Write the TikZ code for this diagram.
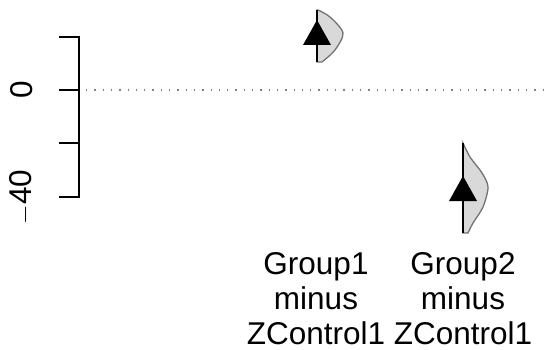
\documentclass[tikz,border=0pt]{standalone}
\usepackage{fontspec}
\setmainfont{Liberation Sans}
\usepackage{tikz}
\usetikzlibrary{positioning}
\tikzstyle{axisline} = [draw, line width=1.5pt, line cap=rect]
\tikzstyle{ticklab} = [rotate=90, inner sep=0pt, font=\fontsize{31.5}{35}\selectfont]
\tikzstyle{grouplab} = [align=center, anchor=north, inner sep=0pt,
    font=\fontsize{31.5}{35}\selectfont]
\tikzstyle{halfviolin} = [draw=black!55, fill=black!15, line width=1.3pt]
\tikzstyle{ci} = [draw, line width=2.5pt]
\tikzstyle{est} = [fill=black]
\tikzstyle{zeroline} = [draw=black!50, line width=1.3pt, dash pattern=on 1.3pt off 7pt]

\begin{document}
\begin{tikzpicture}[x=1pt, y=-1pt]
  \useasboundingbox (0,0) rectangle (548,350);
  % Place coordinates
  \coordinate (top) at (79,37);
  \coordinate (bot) at (79,197);
  \coordinate (z0) at (86,90);
  \coordinate (z1) at (548,90);
  % Draw axis
  \path[axisline] (top) -- (bot);
  \foreach \y in {37,90,143,197}
    \path[axisline] (60,\y) -- (79,\y);
  \node[ticklab] (lab0) at (22,90) {0};
  \node[ticklab] (lab40) at (22,197) {$-$40};
  \path[zeroline] (z0) -- (z1);
  % Group1
  \path[halfviolin] plot[smooth] coordinates {(318,10) (330,17) (343,33) (335,50) (322,62)} -- (317,62) -- (317,10) -- cycle;
  \coordinate (g1top) at (317,10);
  \coordinate (g1bot) at (317,62);
  \path[ci] (g1top) -- (g1bot);
  \path[est] (317,20) -- (331,45) -- (303,45) -- cycle;
  % Group2
  \path[halfviolin] plot[smooth] coordinates {(463,143) (470,157) (482,173) (488,187) (483,207) (473,223) (468,233)} -- (463,233) -- cycle;
  \coordinate (g2top) at (463,143);
  \coordinate (g2bot) at (463,233);
  \path[ci] (g2top) -- (g2bot);
  \path[est] (463,176) -- (477,201) -- (449,201) -- cycle;
  % Labels
  \node[grouplab] (name1) at (316,252) {Group1\\minus\\ZControl1};
  \node[grouplab] (name2) at (463,252) {Group2\\minus\\ZControl1};
\end{tikzpicture}
\end{document}
